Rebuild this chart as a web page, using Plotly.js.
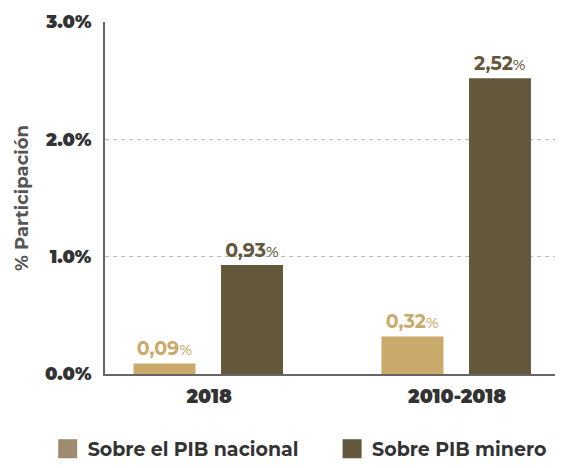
<!DOCTYPE html>
<html>
<head>
<meta charset="utf-8">
<script src="https://cdn.plot.ly/plotly-3.0.1.min.js"></script>
<style>html,body{margin:0;padding:0;background:#fff}#chart{width:561px;height:468px}</style>
</head>
<body>
<div id="chart"></div>
<script>
const categories = ["2018", "2010-2018"];
const seriesNames = ["Sobre el PIB nacional", "Sobre PIB minero"];
const nacional = [0.09, 0.32];
const minero = [0.93, 2.52];
const nacionalLabels = ["0,09", "0,32"];
const mineroLabels = ["0,93", "2,52"];
const yTickVals = [0, 1, 2, 3];
const yTickText = ["0.0%", "1.0%", "2.0%", "3.0%"];

const barColors = ["#C9AA6A", "#63573C"];
const legendColors = ["#9C8B6E", "#63583D"];
const FONT = "Montserrat, 'DejaVu Sans', Inter, sans-serif";

function labelText(arr) {
  return arr.map(v => "<b>" + v + "</b><span style=\"font-size:15px;font-weight:500\">%</span>");
}

const traces = [
  {
    type: "bar", x: categories, y: nacional, name: seriesNames[0],
    marker: {color: barColors[0]}, width: 0.25, offset: -0.305,
    text: labelText(nacionalLabels), textposition: "outside", cliponaxis: false,
    textfont: {family: FONT, size: 19, color: barColors[0], weight: 900},
    showlegend: false, hoverinfo: "skip"
  },
  {
    type: "bar", x: categories, y: minero, name: seriesNames[1],
    marker: {color: barColors[1]}, width: 0.25, offset: 0.048,
    text: labelText(mineroLabels), textposition: "outside", cliponaxis: false,
    textfont: {family: FONT, size: 19, color: barColors[1], weight: 900},
    showlegend: false, hoverinfo: "skip"
  },
  {
    type: "scatter", mode: "markers", x: [null], y: [null], name: seriesNames[0],
    legend: "legend",
    marker: {symbol: "square", size: 17, color: legendColors[0], line: {color: legendColors[0], width: 3}}
  },
  {
    type: "scatter", mode: "markers", x: [null], y: [null], name: seriesNames[1],
    legend: "legend2",
    marker: {symbol: "square", size: 17, color: legendColors[1], line: {color: legendColors[1], width: 3}}
  }
];

const legendFont = {family: FONT, size: 19, color: "#333", weight: 700};
const layout = {
  width: 561, height: 468,
  margin: {l: 105, r: 6, t: 22, b: 94},
  paper_bgcolor: "#fff", plot_bgcolor: "#fff",
  barmode: "group",
  showlegend: true,
  legend: {
    orientation: "h", x: 0.085, xref: "container", xanchor: "left",
    y: 0.0, yref: "container", yanchor: "bottom",
    font: legendFont, itemwidth: 30
  },
  legend2: {
    orientation: "h", x: 0.592, xref: "container", xanchor: "left",
    y: 0.0, yref: "container", yanchor: "bottom",
    font: legendFont, itemwidth: 30
  },
  xaxis: {
    type: "category", range: [-0.42, 1.395],
    showline: true, linecolor: "#666", linewidth: 2,
    showgrid: false, zeroline: false,
    ticks: "outside", ticklen: 4, tickcolor: "rgba(0,0,0,0)",
    tickfont: {family: FONT, size: 19, color: "#333", weight: 900}
  },
  yaxis: {
    range: [0, 3], tickvals: yTickVals, ticktext: yTickText,
    showline: true, linecolor: "#666", linewidth: 2,
    showgrid: true, gridcolor: "#bdbdbd", griddash: "4px,4px", gridwidth: 1,
    zeroline: false,
    ticks: "outside", ticklen: 8, tickcolor: "rgba(0,0,0,0)",
    tickfont: {family: FONT, size: 18, color: "#333", weight: 900},
    title: {text: "% Participación", font: {family: FONT, size: 18, color: "#555", weight: 700}, standoff: 12}
  }
};

Plotly.newPlot("chart", traces, layout, {displayModeBar: false, staticPlot: true});
</script>
</body>
</html>
